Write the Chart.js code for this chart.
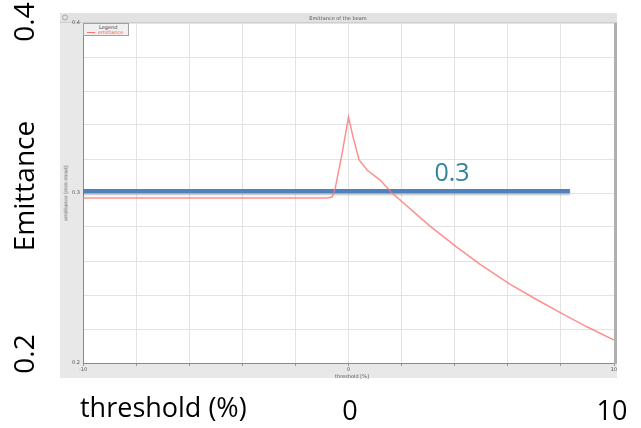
<!DOCTYPE html>
<html>
<head>
<meta charset="utf-8">
<script src="https://cdn.jsdelivr.net/npm/chart.js@4"></script>
<style>
  html, body { margin: 0; padding: 0; background: #fff; }
  #wrap { position: relative; width: 641px; height: 428px; overflow: hidden; }
  #c { position: absolute; left: 0; top: 0; }
  .big { position: absolute; color: #000; font-family: "Open Sans", Lato, sans-serif; white-space: nowrap; line-height: 1; }
  .rot { transform: translate(-50%, -50%) rotate(-90deg); }
  .ctr { transform: translate(-50%, -50%); }
  .tiny { position: absolute; font-family: "DejaVu Sans", sans-serif; font-size: 5px; color: #555; white-space: nowrap; line-height: 1; }
  #legend { position: absolute; left: 83px; top: 23px; width: 46px; height: 13px; background: #f0f0f0; border: 1px solid #a0a0a0; box-sizing: border-box; }
</style>
</head>
<body>
<div id="wrap">
  <canvas id="c" width="641" height="428"></canvas>
  <div id="legend">
    <div class="tiny" style="left:15px;top:1px;color:#444;">Legend</div>
    <div style="position:absolute;left:3px;top:8px;width:8px;height:1px;background:#ff7070;"></div>
    <div class="tiny" style="left:14px;top:6px;color:#ff5a5a;">emittance</div>
  </div>
  <div class="tiny" style="left:338px;top:18px;transform:translate(-50%,-50%);">Emittance of the beam</div>
  <div class="tiny" style="left:66px;top:193px;transform:translate(-50%,-50%) rotate(-90deg);">emittance [mm mrad]</div>
  <div class="tiny" style="left:352px;top:376px;transform:translate(-50%,-50%);">threshold [%]</div>

  <div class="big rot" style="left:23px;top:22px;font-size:28px;">0.4</div>
  <div class="big rot" style="left:23px;top:186px;font-size:28px;">Emittance</div>
  <div class="big rot" style="left:23px;top:354px;font-size:28px;">0.2</div>
  <div class="big" style="left:80px;top:393px;font-size:27px;">threshold (%)</div>
  <div class="big ctr" style="left:350px;top:409px;font-size:27px;">0</div>
  <div class="big ctr" style="left:612px;top:409px;font-size:27px;">10</div>
  <div class="big ctr" style="left:452px;top:171px;font-size:25px;color:#31849b;">0.3</div>
</div>
<script>
// ---- data ----
const thresholdX = [-10, -0.8, -0.62, -0.51, -0.24, 0, 0.17, 0.4, 0.7, 1.19, 1.64, 3.07, 4.09, 4.96, 6.09, 7.1, 8.08, 8.98, 10];
const emittanceY = [0.2971, 0.2971, 0.2976, 0.302, 0.3235, 0.3447, 0.333, 0.3194, 0.3135, 0.3076, 0.300, 0.2805, 0.2680, 0.2580, 0.2462, 0.2372, 0.2287, 0.2213, 0.2135];
const referenceX = [-10, 8.34];
const referenceY = [0.3012, 0.3012];
const yLabelTicks = [0.2, 0.3, 0.4];
const xLabelTicks = [-10, 0, 10];

const toPts = (xs, ys) => xs.map((x, i) => ({ x: x, y: ys[i] }));

const framePlugin = {
  id: 'frame',
  beforeDraw(chart) {
    const ctx = chart.ctx;
    const a = chart.chartArea;
    ctx.save();
    ctx.fillStyle = '#e8e8e8';
    ctx.fillRect(60, 13, 557, 365);
    ctx.fillStyle = '#e2e2e2';
    ctx.fillRect(60, 13, 557, 10);
    ctx.fillStyle = '#cfcfcf';
    ctx.fillRect(60, 22, 557, 1);
    ctx.strokeStyle = '#999';
    ctx.lineWidth = 0.8;
    ctx.beginPath();
    ctx.arc(65, 17.5, 2.5, 0, Math.PI * 2);
    ctx.stroke();
    ctx.fillStyle = '#ffffff';
    ctx.fillRect(a.left, a.top, a.right - a.left, a.bottom - a.top);
    ctx.restore();
  },
  beforeDatasetDraw(chart, args) {
    const ctx = chart.ctx;
    ctx.save();
    if (args.index === 0) {
      ctx.shadowColor = 'rgba(0,0,0,0.25)';
      ctx.shadowOffsetY = 2;
      ctx.shadowBlur = 2;
    }
  },
  afterDatasetDraw(chart) {
    chart.ctx.restore();
  },
  afterDatasetsDraw(chart) {
    const ctx = chart.ctx;
    const a = chart.chartArea;
    ctx.save();
    ctx.fillStyle = '#b0b0b0';
    ctx.fillRect(a.right, a.top, 3, a.bottom - a.top + 1);
    ctx.restore();
  }
};

new Chart(document.getElementById('c'), {
  type: 'line',
  data: {
    datasets: [
      {
        label: 'reference',
        data: toPts(referenceX, referenceY),
        borderColor: '#4f81bd',
        borderWidth: 4,
        pointRadius: 0,
        tension: 0,
        order: 1
      },
      {
        label: 'emittance',
        data: toPts(thresholdX, emittanceY),
        borderColor: 'rgba(255,115,115,0.8)',
        borderWidth: 1.5,
        pointRadius: 0,
        tension: 0,
        order: 0
      }
    ]
  },
  options: {
    responsive: false,
    animation: false,
    devicePixelRatio: 1,
    layout: { padding: { left: 0, top: 23, right: 27, bottom: 50 } },
    plugins: { legend: { display: false }, tooltip: { enabled: false }, title: { display: false } },
    scales: {
      x: {
        type: 'linear',
        min: -10, max: 10,
        afterFit: s => { s.height = 15; },
        ticks: {
          stepSize: 2,
          autoSkip: false,
          maxRotation: 0,
          padding: 1,
          font: { size: 5, family: 'DejaVu Sans' },
          color: '#555',
          callback: v => xLabelTicks.includes(Math.round(v)) ? String(Math.round(v)) : ''
        },
        grid: { color: '#e3e3e3', tickLength: 3, tickColor: '#999' },
        border: { color: '#8a8a8a', width: 1 }
      },
      y: {
        min: 0.2, max: 0.4,
        afterFit: s => { s.width = 83; },
        ticks: {
          stepSize: 0.02,
          autoSkip: false,
          padding: 3,
          font: { size: 5, family: 'DejaVu Sans' },
          color: '#555',
          callback: v => {
            const r = Math.round(v * 100) / 100;
            return yLabelTicks.some(t => Math.abs(t - r) < 1e-6) ? r.toFixed(1) : '';
          }
        },
        grid: { color: '#e3e3e3', drawTicks: false },
        border: { color: '#8a8a8a', width: 1 }
      }
    }
  },
  plugins: [framePlugin]
});
</script>
</body>
</html>
